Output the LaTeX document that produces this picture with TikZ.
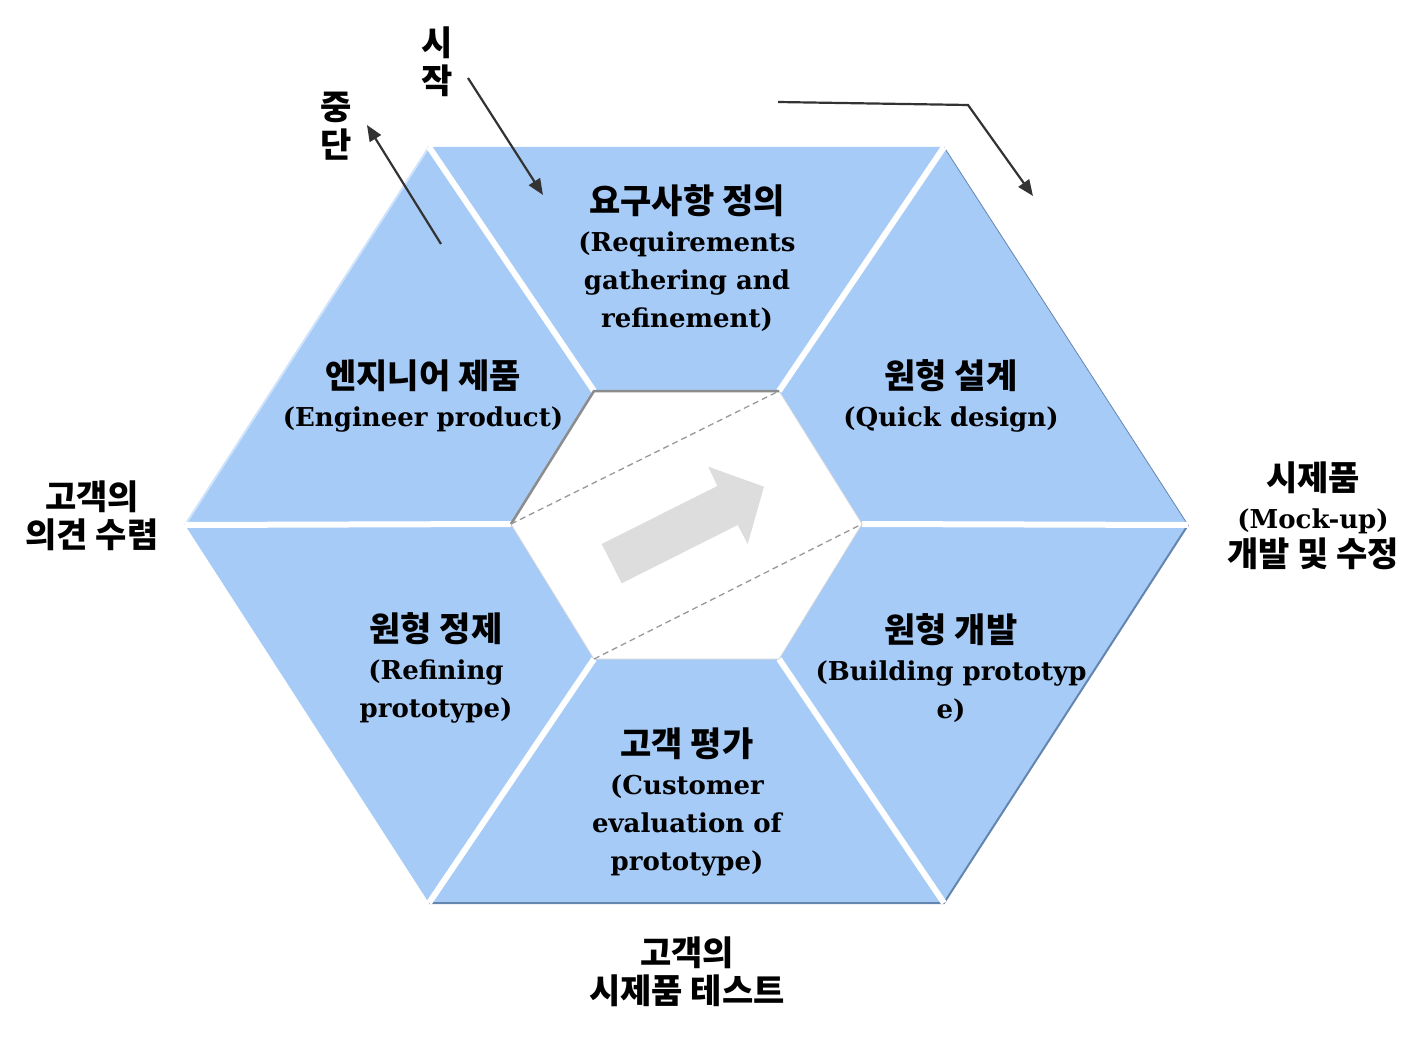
\documentclass[tikz,border=0pt]{standalone}
\usepackage{fontspec}
\setmainfont{DejaVu Serif}
\newfontfamily\kr{Noto Sans CJK KR}
\usetikzlibrary{arrows.meta}
\definecolor{seg}{HTML}{A7CBF7}
\definecolor{segdark}{HTML}{6485AE}
\definecolor{seglight}{HTML}{CFE3FB}
\definecolor{arrowgray}{HTML}{333333}
\definecolor{inneredge}{HTML}{8C8C8C}
\definecolor{bigarrow}{HTML}{DDDDDD}
\newcommand{\ko}[1]{{\kr\fontsize{34}{38}\selectfont #1}}
\begin{document}
\begin{tikzpicture}[x=1pt,y=-1pt,
  segment/.style={fill=seg, draw=none},
  gapline/.style={white, line width=6pt},
  flow/.style={draw=arrowgray, line width=2.2pt, -{Triangle[length=16pt,width=13pt]}},
  seglabel/.style={align=center, font=\bfseries\fontsize{26}{38}\selectfont, text=black, inner sep=0pt},
  outlabel/.style={align=center, font=\bfseries\fontsize{26}{38}\selectfont, text=black, inner sep=0pt}
]
\useasboundingbox (0,0) rectangle (1428,1038);
% outer hexagon
\coordinate (OTL) at (429,147);
\coordinate (OTR) at (944,147);
\coordinate (OR) at (1188,525);
\coordinate (OBR) at (944,903);
\coordinate (OBL) at (429,903);
\coordinate (OL) at (185,525);
% inner hexagon
\coordinate (ITL) at (594,391);
\coordinate (ITR) at (779,391);
\coordinate (IR) at (862,524);
\coordinate (IBR) at (779,659);
\coordinate (IBL) at (594,659);
\coordinate (IL) at (511,524);
% segments
\fill[segment] (OTL) -- (OTR) -- (ITR) -- (ITL) -- cycle;
\fill[segment] (OTR) -- (OR) -- (IR) -- (ITR) -- cycle;
\fill[segment] (OR) -- (OBR) -- (IBR) -- (IR) -- cycle;
\fill[segment] (OBR) -- (OBL) -- (IBL) -- (IBR) -- cycle;
\fill[segment] (OBL) -- (OL) -- (IL) -- (IBL) -- cycle;
\fill[segment] (OL) -- (OTL) -- (ITL) -- (IL) -- cycle;
% edges
\draw[seglight, line width=2pt] (OL) -- (OTL);
\draw[segdark, line width=0.8pt] (OTR) -- (OR);
\draw[segdark, line width=2pt] (OR) -- (OBR) -- (OBL);
% gaps
\draw[gapline] (ITL) -- (OTL);
\draw[gapline] (ITR) -- (OTR);
\draw[gapline] (IR) -- (OR);
\draw[gapline] (IBR) -- (OBR);
\draw[gapline] (IBL) -- (OBL);
\draw[gapline] (IL) -- (OL);
% inner hexagon
\filldraw[fill=white, draw=black!15, line width=0.6pt] (ITL) -- (ITR) -- (IR) -- (IBR) -- (IBL) -- (IL) -- cycle;
\draw[inneredge, line width=2.5pt, line join=miter] (IL) -- (ITL) -- (ITR);
\draw[black!40, line width=1.3pt, dash pattern=on 6pt off 4pt] (IL) -- (ITR);
\draw[black!40, line width=1.3pt, dash pattern=on 6pt off 4pt] (IBL) -- (IR);
% big arrow
\fill[bigarrow] (601.7,544) -- (717.3,486) -- (708.3,466.7) -- (764,486.7) -- (747.7,544) -- (737.7,525) -- (621.7,583.3) -- cycle;
% segment labels
\node[seglabel] (req) at (687,258) {\ko{요구사항 정의}\\(Requirements\\gathering and\\refinement)};
\node[seglabel] (eng) at (423,396) {\ko{엔지니어 제품}\\(Engineer product)};
\node[seglabel] (qd) at (951,396) {\ko{원형 설계}\\(Quick design)};
\node[seglabel] (ref) at (436,668) {\ko{원형 정제}\\(Refining\\prototype)};
\node[seglabel] (bld) at (951,668) {\ko{원형 개발}\\(Building prototyp\\e)};
\node[seglabel] (cust) at (687,802) {\ko{고객 평가}\\(Customer\\evaluation of\\prototype)};
% outside labels
\node[outlabel] (opinion) at (92,516) {\ko{고객의}\\\ko{의견 수렴}};
\node[outlabel] (mock) at (1313,516) {\ko{시제품}\\(Mock-up)\\\ko{개발 및 수정}};
\node[outlabel] (test) at (687,972) {\ko{고객의}\\\ko{시제품 테스트}};
\node[outlabel] (start) at (437,62) {\ko{시}\\\ko{작}};
\node[outlabel] (stop) at (336,126) {\ko{중}\\\ko{단}};
% arrows
\coordinate (s1) at (468,78);
\coordinate (s2) at (543,195);
\coordinate (t1) at (441,244);
\coordinate (t2) at (367,125);
\coordinate (p1) at (778,102);
\coordinate (p2) at (968,105);
\coordinate (p3) at (1033,196);
\draw[flow] (s1) -- (s2);
\draw[flow] (t1) -- (t2);
\draw[flow, line join=miter] (p1) -- (p2) -- (p3);
\end{tikzpicture}
\end{document}
